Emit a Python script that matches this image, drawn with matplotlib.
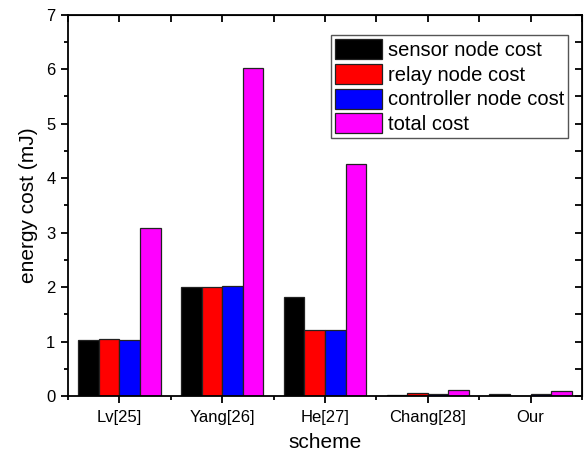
import numpy as np
import matplotlib
matplotlib.use("Agg")
import matplotlib.pyplot as plt
from matplotlib.ticker import MultipleLocator, FixedLocator

plt.rcParams['font.family'] = ['Liberation Sans', 'DejaVu Sans']

schemes = ['Lv[25]', 'Yang[26]', 'He[27]', 'Chang[28]', 'Our']
sensor = [1.03, 2.00, 1.82, 0.01, 0.03]
relay = [1.04, 2.00, 1.22, 0.05, 0.00]
controller = [1.02, 2.02, 1.21, 0.03, 0.04]
total = [3.09, 6.03, 4.26, 0.11, 0.09]

series = [('sensor node cost', sensor, '#000000'),
          ('relay node cost', relay, '#ff0000'),
          ('controller node cost', controller, '#0000ff'),
          ('total cost', total, '#ff00ff')]

fig = plt.figure(figsize=(5.84, 4.59), dpi=100)
ax = fig.add_axes([0.1164, 0.1373, 0.9966 - 0.1164, 0.968 - 0.1373])

x = np.arange(1, len(schemes) + 1)
w = 0.2
for i, (name, vals, col) in enumerate(series):
    ax.bar(x + (i - 1.5) * w, vals, w, color=col, edgecolor='#222222',
           linewidth=0.9, label=name)

ax.set_xlim(0.5, 5.5)
ax.set_ylim(0, 7)
ax.set_xticks(x)
ax.set_xticklabels(schemes)
ax.xaxis.set_minor_locator(FixedLocator(np.arange(0.5, 6, 1.0)))
ax.yaxis.set_major_locator(MultipleLocator(1))
ax.yaxis.set_minor_locator(MultipleLocator(0.5))

for s in ax.spines.values():
    s.set_linewidth(1.3)

ax.tick_params(which='major', direction='out', length=5, width=1.3,
               labelsize=12)
ax.tick_params(axis='x', which='major', pad=5)
ax.tick_params(axis='y', which='major', pad=4)
ax.tick_params(which='minor', direction='out', length=3, width=1.3)
# mirrored ticks on top and right point inward
ax2 = ax.secondary_xaxis('top')
ax2.set_xticks(x)
ax2.xaxis.set_minor_locator(FixedLocator(np.arange(0.5, 6, 1.0)))
ax2.tick_params(which='both', direction='in', length=5, width=1.3, labeltop=False)
ax2.set_xticklabels([])
ax3 = ax.secondary_yaxis('right')
ax3.yaxis.set_major_locator(MultipleLocator(1))
ax3.yaxis.set_minor_locator(MultipleLocator(0.5))
ax3.tick_params(which='both', direction='in', length=5, width=1.3)
ax3.set_yticklabels([])

ax.set_xlabel('scheme', fontsize=15, labelpad=6)
ax.set_ylabel('energy cost (mJ)', fontsize=15, labelpad=6)

leg = ax.legend(loc='upper right', bbox_to_anchor=(0.973, 0.947),
                fontsize=14.5, fancybox=False, framealpha=1,
                edgecolor='#555555', handlelength=2.3, handleheight=1.15,
                labelspacing=0.2, handletextpad=0.3, borderpad=0.2,
                borderaxespad=0)
leg.get_frame().set_linewidth(1.0)

fig.savefig('out.png', dpi=100)
